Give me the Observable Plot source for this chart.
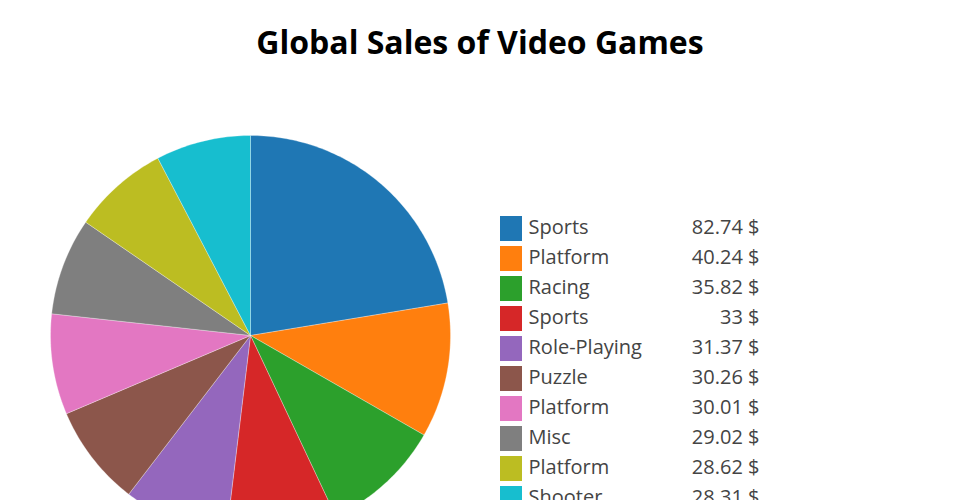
<!DOCTYPE html>
<html>
<head>
<meta charset="utf-8">
<script src="https://cdn.jsdelivr.net/npm/d3@7"></script>
<script src="https://cdn.jsdelivr.net/npm/@observablehq/plot@0.6"></script>
<style>
  html, body { margin: 0; padding: 0; background: #fff; }
  #wrap { position: relative; width: 960px; height: 500px; overflow: hidden; }
  #title { position: absolute; left: 0; top: 26px; width: 960px; text-align: center;
    font-family: "Open Sans", sans-serif; font-weight: 700; font-size: 32px; color: #000; margin: 0; line-height: 32px; }
  #chart { position: absolute; left: 0; top: 0; }
</style>
</head>
<body>
<div id="wrap">
  <div id="chart"></div>
  <h2 id="title">Global Sales of Video Games</h2>
</div>
<script>
const genres = ["Sports", "Platform", "Racing", "Sports", "Role-Playing", "Puzzle", "Platform", "Misc", "Platform", "Shooter"];
const sales = [82.74, 40.24, 35.82, 33, 31.37, 30.26, 30.01, 29.02, 28.62, 28.31];
const colors = ["#1f77b4", "#ff7f0e", "#2ca02c", "#d62728", "#9467bd", "#8c564b", "#e377c2", "#7f7f7f", "#bcbd22", "#17becf"];

const cx = 250, cy = 335, r = 200;
const pie = d3.pie().sort(null).value(d => d.value)(sales.map((v, i) => ({value: v, i})));
const pts = [];
pie.forEach(s => {
  const i = s.data.i;
  pts.push({i, x: cx, y: cy, c: colors[i]});
  const n = Math.max(4, Math.ceil((s.endAngle - s.startAngle) * 60));
  for (let k = 0; k <= n; k++) {
    const a = s.startAngle + (s.endAngle - s.startAngle) * k / n;
    pts.push({i, x: cx + r * Math.sin(a), y: cy - r * Math.cos(a), c: colors[i]});
  }
  pts.push({i, x: cx, y: cy, c: colors[i]});
});

const rows = sales.map((v, i) => ({i, genre: genres[i], value: v, label: `${d3.format("~f")(v)} $`, c: colors[i]}));
const rowY = i => 216 + 30 * i;

const plot = Plot.plot({
  width: 960, height: 500,
  margin: 0,
  x: {domain: [0, 960], range: [0, 960], axis: null},
  y: {domain: [0, 500], range: [0, 500], axis: null},
  color: {type: "identity"},
  style: {fontFamily: "'Open Sans', sans-serif", background: "#fff"},
  marks: [
    Plot.line(pts, {x: "x", y: "y", z: "i", fill: "c", stroke: "#fff", strokeWidth: 0.3, curve: "linear"}),
    Plot.rect(rows, {x1: 500, x2: 522, y1: d => rowY(d.i), y2: d => rowY(d.i) + 25, fill: "c"}),
    Plot.text(rows, {x: 528, y: d => rowY(d.i) + 11, text: "genre", textAnchor: "start", fontSize: 20, fill: "#444"}),
    Plot.text(rows, {x: 759, y: d => rowY(d.i) + 11, text: "label", textAnchor: "end", fontSize: 20, fill: "#444"})
  ]
});
document.getElementById("chart").appendChild(plot);
</script>
</body>
</html>
